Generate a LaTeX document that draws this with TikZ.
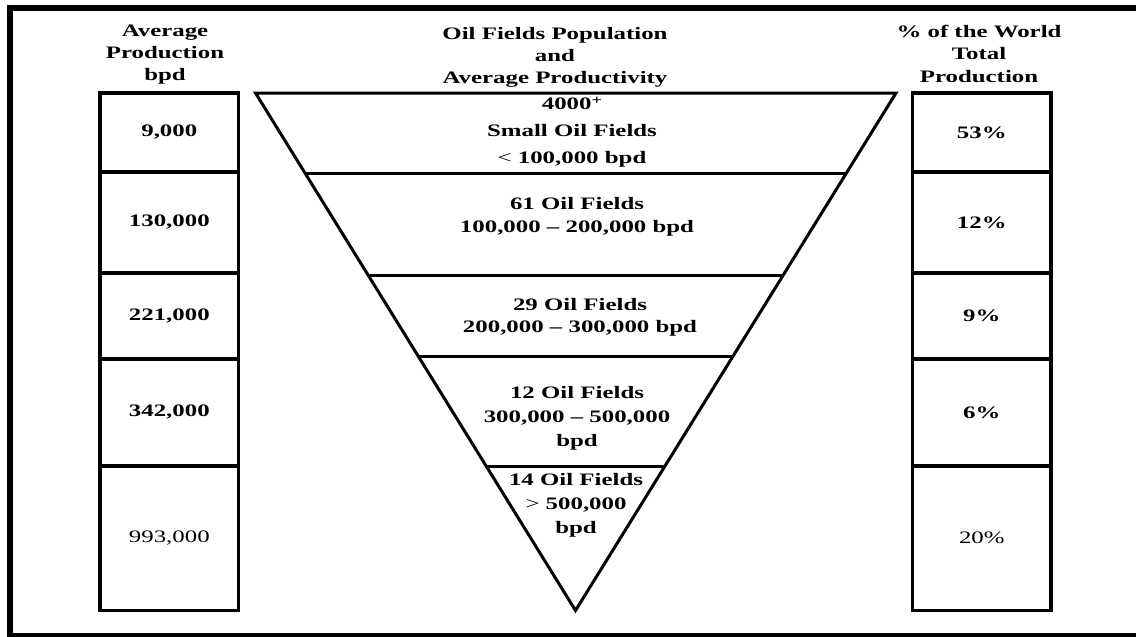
\documentclass[tikz,border=0pt]{standalone}
\usepackage{fontspec}
\setmainfont[FakeStretch=1.42]{Liberation Serif}
\usetikzlibrary{calc}
\newcommand\mlines[2]{\vtop{\baselineskip=#1\relax\halign{\hfil##\hfil\cr#2\crcr}}}
\begin{document}
\begin{tikzpicture}[x=1pt,y=-1pt,line join=miter,
  txt/.style={font=\fontsize{17.5}{22}\selectfont\bfseries,inner sep=0pt},
  cell/.style={draw,line width=3.3pt,txt,minimum width=138.5pt},
  edge/.style={line width=3pt},
  frameline/.style={line width=6pt}]
\useasboundingbox (0,0) rectangle (1136,637);
\clip (0,0) rectangle (1136,637);
\fill[white] (0,0) rectangle (1136,637);
% outer frame
\draw[frameline] (1145,8) -- (10,8) -- (10,636) -- (1145,636);

% headers
\node[txt,anchor=base] (hL) at (165,36.5) {\mlines{22pt}{Average\cr Production\cr bpd}};
\node[txt,anchor=base] (hM) at (555,39.5) {\mlines{22pt}{Oil Fields Population\cr and\cr Average Productivity}};
\node[txt,anchor=base] (hR) at (979,37) {\mlines{22.5pt}{\% of the World\cr Total\cr Production}};

% left column
\node[cell,minimum height=79pt]  (L1) at (169.3,132.5) {9,000};
\node[cell,minimum height=101pt] (L2) at (169.3,222.5) {130,000};
\node[cell,minimum height=86pt]  (L3) at (169.3,316)   {221,000};
\node[cell,minimum height=107pt] (L4) at (169.3,412.5) {342,000};
\node[cell,minimum height=144.5pt] (L5) at (169.3,538.25) {\mdseries 993,000};

% right column
\node[cell,minimum height=79pt]  (R1) at (981.8,132.5) {53\%};
\node[cell,minimum height=101pt] (R2) at (981.8,222.5) {12\%};
\node[cell,minimum height=86pt]  (R3) at (981.8,316)   {9\%};
\node[cell,minimum height=107pt] (R4) at (981.8,412.5) {6\%};
\node[cell,minimum height=144.5pt] (R5) at (981.8,538.25) {\mdseries 20\%};

% inverted triangle
\coordinate (TL) at (255.5,93);
\coordinate (TR) at (896,93);
\coordinate (A) at (575.5,610.5);
\draw[edge] (TL) -- (TR) -- (A) -- cycle;
\coordinate (a1) at ($(TL)!0.1565!(A)$); \coordinate (b1) at ($(TR)!0.1565!(A)$);
\coordinate (a2) at ($(TL)!0.3517!(A)$); \coordinate (b2) at ($(TR)!0.3517!(A)$);
\coordinate (a3) at ($(TL)!0.5101!(A)$); \coordinate (b3) at ($(TR)!0.5101!(A)$);
\coordinate (a4) at ($(TL)!0.7208!(A)$); \coordinate (b4) at ($(TR)!0.7208!(A)$);
\draw[edge] (a1) -- (b1);
\draw[edge] (a2) -- (b2);
\draw[edge] (a3) -- (b3);
\draw[edge] (a4) -- (b4);

% band texts
\node[txt,anchor=base] (t1) at (572,109) {\mlines{27pt}{4000\raisebox{5pt}{\fontsize{13}{13}\selectfont +}\cr Small Oil Fields\cr {\mdseries<} 100,000 bpd}};
\node[txt,anchor=base] (t2) at (577,209) {\mlines{23pt}{61 Oil Fields\cr 100,000 – 200,000 bpd}};
\node[txt,anchor=base] (t3) at (580,310) {\mlines{22pt}{29 Oil Fields\cr 200,000 – 300,000 bpd}};
\node[txt,anchor=base] (t4) at (577,398) {\mlines{24pt}{12 Oil Fields\cr 300,000 – 500,000\cr bpd}};
\node[txt,anchor=base] (t5) at (576,485) {\mlines{24pt}{14 Oil Fields\cr {\mdseries>} 500,000\cr bpd}};
\end{tikzpicture}
\end{document}
